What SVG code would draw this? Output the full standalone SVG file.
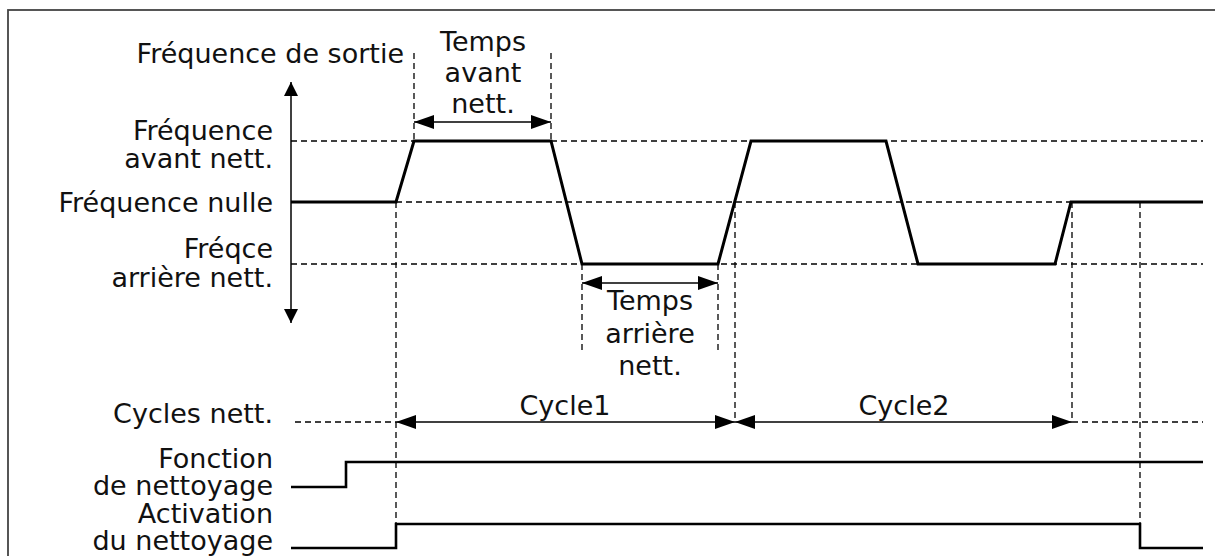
<svg xmlns="http://www.w3.org/2000/svg" width="1215" height="556" viewBox="0 0 1215 556">
<style>
text{font-family:"DejaVu Sans","Verdana",sans-serif;font-size:27px;fill:#111}
.lbl{text-anchor:end}
.mid{text-anchor:middle}
.sig{fill:none;stroke:#000;stroke-width:3;stroke-linejoin:miter}
.dash{fill:none;stroke:#000;stroke-width:1.3;stroke-dasharray:6 4}
.dim{fill:none;stroke:#000;stroke-width:1.5}
</style>
<defs>
<marker id="ah" viewBox="0 0 20 14" refX="20" refY="7" markerWidth="20" markerHeight="14" markerUnits="userSpaceOnUse" orient="auto-start-reverse">
<path d="M0,0 L20,7 L0,14 Z" fill="#000"/>
</marker>
<marker id="ax" viewBox="0 0 14 14" refX="14" refY="7" markerWidth="14" markerHeight="14" markerUnits="userSpaceOnUse" orient="auto-start-reverse">
<path d="M0,0 L14,7 L0,14 Z" fill="#000"/>
</marker>
</defs>
<rect x="8" y="10" width="1300" height="700" fill="#fff" stroke="#444" stroke-width="1.8"/>

<g id="connectors">
<line class="dash" x1="291" y1="141" x2="1203" y2="141"/>
<line class="dash" x1="396" y1="202" x2="1203" y2="202"/>
<line class="dash" x1="291" y1="264" x2="1203" y2="264"/>
<line class="dash" x1="295" y1="422" x2="396" y2="422"/>
<line class="dash" x1="1072" y1="422" x2="1203" y2="422"/>
<line class="dash" x1="414" y1="53" x2="414" y2="141"/>
<line class="dash" x1="551" y1="53" x2="551" y2="141"/>
<line class="dash" x1="582" y1="264" x2="582" y2="351"/>
<line class="dash" x1="718" y1="264" x2="718" y2="351"/>
<line class="dash" x1="396" y1="202" x2="396" y2="524"/>
<line class="dash" x1="735" y1="202" x2="735" y2="422"/>
<line class="dash" x1="1072" y1="202" x2="1072" y2="422"/>
<line class="dash" x1="1140" y1="202" x2="1140" y2="524"/>
<line class="dim" x1="291" y1="82" x2="291" y2="323" marker-start="url(#ax)" marker-end="url(#ax)"/>
<line class="dim" x1="414" y1="122" x2="551" y2="122" marker-start="url(#ah)" marker-end="url(#ah)"/>
<line class="dim" x1="582" y1="283" x2="718" y2="283" marker-start="url(#ah)" marker-end="url(#ah)"/>
<line class="dim" x1="396" y1="422" x2="735" y2="422" marker-start="url(#ah)" marker-end="url(#ah)"/>
<line class="dim" x1="735" y1="422" x2="1072" y2="422" marker-start="url(#ah)" marker-end="url(#ah)"/>
</g>

<g id="signal-frequency">
<polyline class="sig" points="291,202 396,202 414,141 551,141 582,264 718,264 751,141 886,141 918,264 1055,264 1071,202 1203,202"/>
</g>
<g id="signal-fonction">
<polyline class="sig" points="291,487 346,487 346,462 1203,462" style="stroke-width:2.6"/>
</g>
<g id="signal-activation">
<polyline class="sig" points="291,548 396,548 396,524 1140,524 1140,548 1203,548" style="stroke-width:2.6"/>
</g>

<g id="labels">
<text class="lbl" x="404" y="63">Fréquence de sortie</text>
<text class="lbl" x="273" y="140">Fréquence</text>
<text class="lbl" x="273" y="168">avant nett.</text>
<text class="lbl" x="273" y="212">Fréquence nulle</text>
<text class="lbl" x="273" y="258">Fréqce</text>
<text class="lbl" x="273" y="287">arrière nett.</text>
<text class="lbl" x="273" y="423">Cycles nett.</text>
<text class="lbl" x="273" y="468">Fonction</text>
<text class="lbl" x="273" y="495">de nettoyage</text>
<text class="lbl" x="273" y="523">Activation</text>
<text class="lbl" x="273" y="550">du nettoyage</text>
</g>
<g id="temps-avant">
<text class="mid" x="483" y="51">Temps</text>
<text class="mid" x="483" y="82">avant</text>
<text class="mid" x="483" y="113">nett.</text>
</g>
<g id="temps-arriere">
<text class="mid" x="650" y="310">Temps</text>
<text class="mid" x="650" y="343">arrière</text>
<text class="mid" x="650" y="375">nett.</text>
</g>
<g id="cycles">
<text class="mid" x="565" y="415">Cycle1</text>
<text class="mid" x="904" y="415">Cycle2</text>
</g>
</svg>
